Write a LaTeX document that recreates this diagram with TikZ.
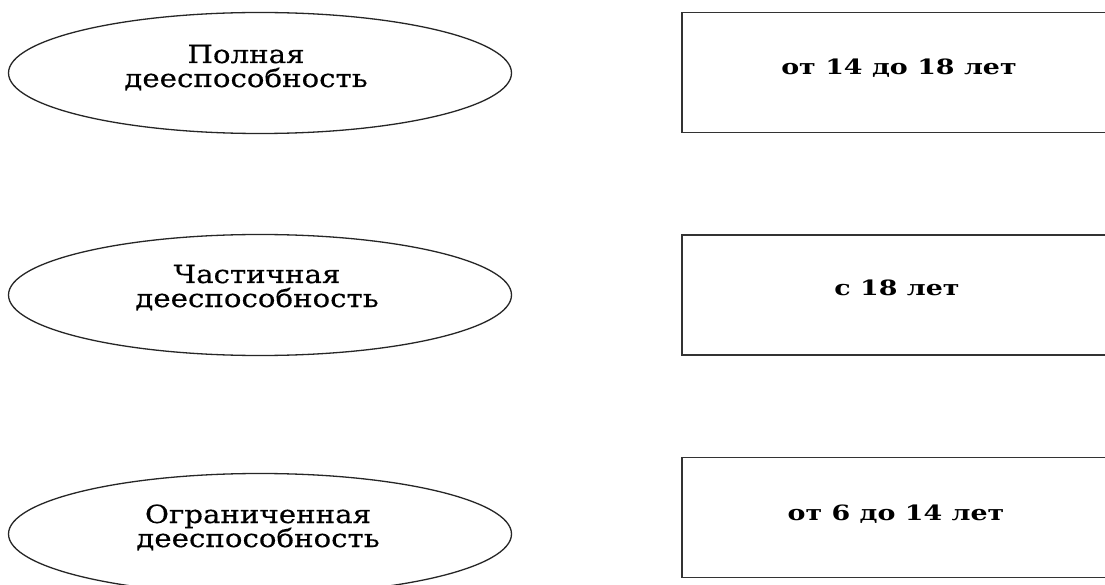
\documentclass[tikz,border=0pt]{standalone}
\usepackage{fontspec}
\setmainfont{DejaVu Serif}
\newfontfamily\ovalfont[FakeStretch=1.17,FakeBold=0.4]{DejaVu Serif}
\newfontfamily\agefont[FakeStretch=1.28]{DejaVu Serif}
\usetikzlibrary{shapes.geometric}
\tikzset{
  oval/.style={ellipse, draw=black!85, line width=1.3pt, minimum width=503pt, minimum height=121pt, inner sep=0pt},
  agebox/.style={rectangle, draw=black!80, line width=1.6pt, minimum width=430pt, minimum height=120pt, inner sep=0pt},
  ovaltext/.style={anchor=base, font=\ovalfont\fontsize{25}{25}\selectfont, inner sep=0pt},
  boxtext/.style={anchor=base, font=\agefont\bfseries\fontsize{21}{24}\selectfont, inner sep=0pt}
}
\begin{document}
\begin{tikzpicture}[x=1pt,y=-1pt]
\useasboundingbox (0,0) rectangle (1105,585);
\clip (0,0) rectangle (1105,585);
\fill[white] (0,0) rectangle (1105,585);
% ellipses
\node[oval] (e1) at (260,73) {};
\node[oval] (e2) at (260,295) {};
\node[oval] (e3) at (260,534) {};
\node[ovaltext] (t1a) at (246,63) {Полная};
\node[ovaltext] (t1b) at (246,87) {дееспособность};
\node[ovaltext] (t2a) at (257,283) {Частичная};
\node[ovaltext] (t2b) at (257,307) {дееспособность};
\node[ovaltext] (t3a) at (258,523) {Ограниченная};
\node[ovaltext] (t3b) at (258,547) {дееспособность};
% boxes
\node[agebox] (b1) at (897,72.5) {};
\node[agebox] (b2) at (897,295) {};
\node[agebox] (b3) at (897,517.5) {};
\node[boxtext] (s1) at (899,75) {от 14 до 18 лет};
\node[boxtext] (s2) at (897,295) {с 18 лет};
\node[boxtext] (s3) at (896,520) {от 6 до 14 лет};
\end{tikzpicture}
\end{document}
